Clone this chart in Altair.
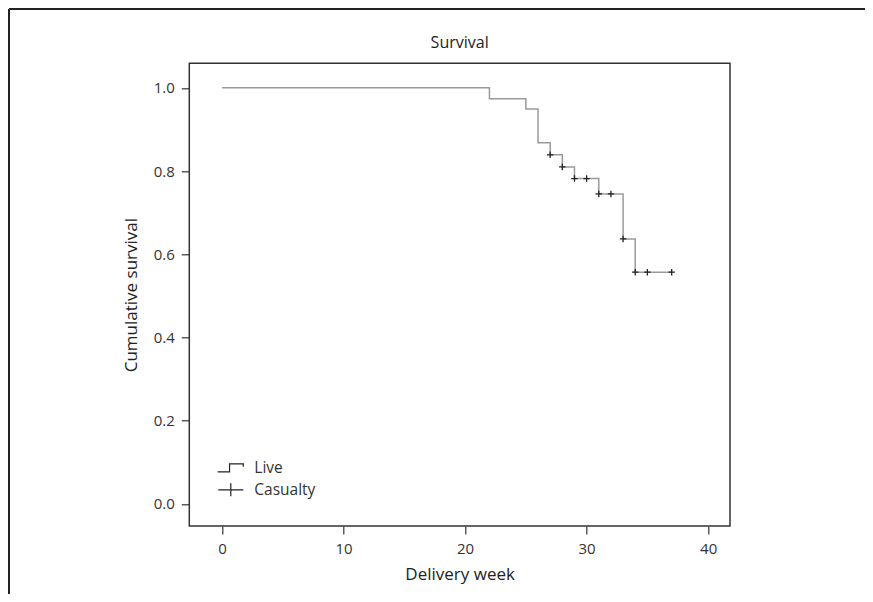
import altair as alt
import pandas as pd

chart_title = "Survival"
x_title = "Delivery week"
y_title = "Cumulative survival"

step_weeks = [0, 22, 25, 26, 27, 28, 29, 31, 33, 34, 37]
step_surv = [1.0, 0.974, 0.949, 0.868, 0.839, 0.810, 0.782, 0.745, 0.637, 0.557, 0.557]

censor_weeks = [27, 28, 29, 30, 31, 32, 33, 34, 35, 37]
censor_surv = [0.839, 0.810, 0.782, 0.782, 0.745, 0.745, 0.637, 0.557, 0.557, 0.557]

legend_labels = ["Live", "Casualty"]
x_ticks = [0, 10, 20, 30, 40]
y_ticks = [0.0, 0.2, 0.4, 0.6, 0.8, 1.0]

FONT = "Open Sans"
INK = "#333333"

step_df = pd.DataFrame({"week": step_weeks, "surv": step_surv})
censor_df = pd.DataFrame({"week": censor_weeks, "surv": censor_surv})
legend_df = pd.DataFrame({"week": censor_weeks[:2], "surv": censor_surv[:2], "kind": legend_labels})

x_scale = alt.Scale(domain=[-2.7, 41.8], nice=False, zero=False)
y_scale = alt.Scale(domain=[-0.053, 1.059], nice=False, zero=False)

x_enc = alt.X("week:Q", scale=x_scale,
              axis=alt.Axis(title=x_title, values=x_ticks, format="d", titlePadding=10))
y_enc = alt.Y("surv:Q", scale=y_scale,
              axis=alt.Axis(title=y_title, values=y_ticks, format=".1f", titlePadding=13))

curve = alt.Chart(step_df).mark_line(
    interpolate="step-after", color="#9a9a9a", strokeWidth=1.5
).encode(x=x_enc, y=y_enc)

censors = alt.Chart(censor_df).mark_point(
    shape="M-1,0H1M0,-1V1", size=42, filled=False, color="#222222",
    strokeWidth=1.3, opacity=1
).encode(x="week:Q", y="surv:Q")

legend_layer = alt.Chart(legend_df).transform_filter("false").mark_point(
    filled=False, color="#222222", strokeWidth=1.2, opacity=1
).encode(
    x="week:Q", y="surv:Q",
    shape=alt.Shape(
        "kind:N",
        scale=alt.Scale(domain=legend_labels,
                        range=["M-1.05,0.32H-0.1V-0.32H1V-0.08", "M-1,0H1M0,-0.52V0.52"]),
        legend=alt.Legend(
            title=None, orient="none", legendX=28, legendY=391,
            symbolSize=625, symbolStrokeWidth=1.2, symbolStrokeColor="#222222",
            symbolFillColor="transparent", labelFont=FONT, labelFontSize=15.5,
            labelColor=INK, labelOffset=10, padding=0, rowPadding=0,
        ),
    ),
)

frame_src = pd.DataFrame({"k": [0]})
top_border = alt.Chart(frame_src).mark_rule(color="#222222", strokeWidth=2).encode(
    x=alt.value(-180.3), x2=alt.value(720), y=alt.value(-54.3)
)
left_border = alt.Chart(frame_src).mark_rule(color="#222222", strokeWidth=2).encode(
    x=alt.value(-180.3), y=alt.value(-54.3), y2=alt.value(560)
)

chart = alt.layer(
    top_border, left_border, curve, censors, legend_layer
).properties(
    width=540.7, height=462.7,
    title=alt.TitleParams(chart_title, anchor="middle", offset=-43, frame="group"),
    padding={"left": 181.3, "top": 55.3, "right": 135, "bottom": 68},
    autosize=alt.AutoSizeParams(type="none"),
).configure_view(
    stroke="#333333", strokeWidth=1.5
).configure_axis(
    domain=False, grid=False, tickColor=INK, tickSize=8, tickWidth=1.2,
    labelFont=FONT, labelFontSize=15, labelColor=INK, labelPadding=7,
    titleFont=FONT, titleFontSize=17, titleFontWeight="normal", titleColor="#222222",
).configure_title(
    font=FONT, fontSize=16, fontWeight="normal", color="#222222"
)

chart.save("out.html", embed_options={"renderer": "svg", "actions": False})
